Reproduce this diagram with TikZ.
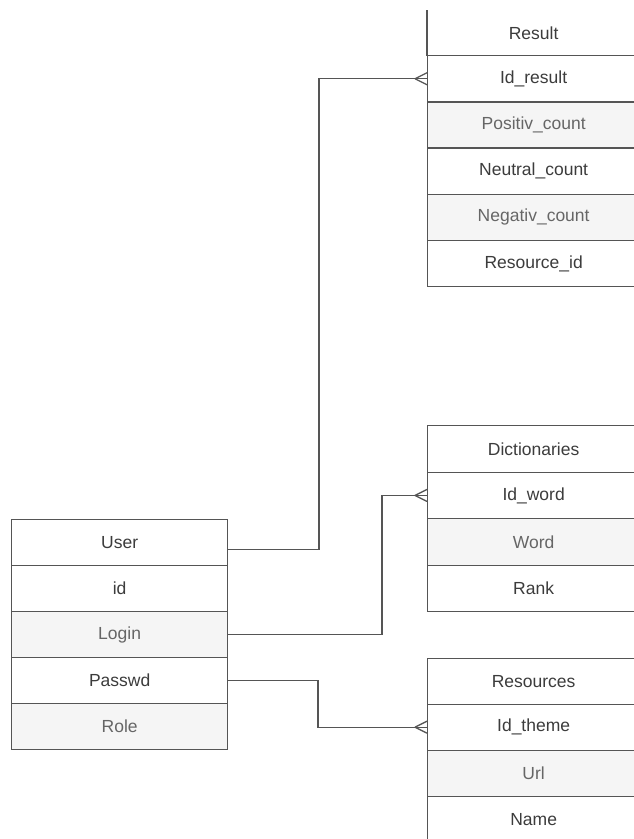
\documentclass[tikz,border=0pt]{standalone}
\usepackage{fontspec}
\setmainfont{Liberation Sans}
\usetikzlibrary{calc}
\definecolor{linec}{HTML}{555555}
\definecolor{graybg}{HTML}{F5F5F5}
\definecolor{txtd}{HTML}{3C3C3C}
\definecolor{txtl}{HTML}{666666}
\begin{document}
\begin{tikzpicture}[x=1pt,y=-1pt,
  row/.style={draw=linec, line width=1.3pt, fill=white, text=txtd, inner sep=0pt,
    minimum height=#1, font=\fontsize{17.5}{20}\selectfont},
  row/.default=46pt,
  grow/.style={row=#1, fill=graybg, text=txtl},
  grow/.default=46pt,
  wl/.style={minimum width=216pt},
  wr/.style={minimum width=212pt},
  conn/.style={draw=linec, line width=1.3pt}]
\useasboundingbox (0,0) rectangle (634,839);
% ---------- Result ----------
\node[row=45pt, wr, draw=none, anchor=north west] (rhead) at (427,10) {Result};
\node[row=46.2pt, wr, anchor=north west] (rid)  at (427,55) {Id\_result};
\node[grow=46.2pt, wr, anchor=north west] (rpos) at (427,101.2) {Positiv\_count};
\node[row=46.2pt, wr, anchor=north west] (rneu) at (427,147.4) {Neutral\_count};
\node[grow=46.2pt, wr, anchor=north west] (rneg) at (427,193.6) {Negativ\_count};
\node[row=46.2pt, wr, anchor=north west] (rres) at (427,239.8) {Resource\_id};
\draw[conn] (rhead.north west) -- (rhead.south west);
% ---------- Dictionaries ----------
\node[row=46.5pt, wr, anchor=north west] (dhead) at (427,425) {Dictionaries};
\node[row=46.5pt, wr, anchor=north west] (did)   at (427,471.5) {Id\_word};
\node[grow=46.5pt, wr, anchor=north west] (dword) at (427,518) {Word};
\node[row=46.5pt, wr, anchor=north west] (drank) at (427,564.5) {Rank};
% ---------- Resources ----------
\node[row, wr, anchor=north west] (shead) at (427,657.5) {Resources};
\node[row, wr, anchor=north west] (sid)   at (427,703.5) {Id\_theme};
\node[grow, wr, anchor=north west] (surl) at (427,749.5) {Url};
\node[row, wr, anchor=north west] (sname) at (427,795.5) {Name};
% ---------- User ----------
\node[row, wl, anchor=north west] (uhead) at (11,519) {User};
\node[row, wl, anchor=north west] (uid)   at (11,565) {id};
\node[grow, wl, anchor=north west] (ulog) at (11,611) {Login};
\node[row, wl, anchor=north west] (upw)   at (11,657) {Passwd};
\node[grow, wl, anchor=north west] (urole) at (11,703) {Role};
% ---------- connectors ----------
\coordinate (x1) at (319,0);
\coordinate (x2) at (382,0);
\coordinate (x3) at (318,0);
\draw[conn] ([yshift=-7pt]uhead.east) -| (rid.west -| x1) -- (rid.west);
\draw[conn] (ulog.east) -| (did.west -| x2) -- (did.west);
\draw[conn] (upw.east) -| (sid.west -| x3) -- (sid.west);
\foreach \t in {rid,did,sid}{
  \draw[conn] ([xshift=-12pt]\t.west) -- ([yshift=6pt]\t.west)
              ([xshift=-12pt]\t.west) -- ([yshift=-6pt]\t.west);
}
\end{tikzpicture}
\end{document}
